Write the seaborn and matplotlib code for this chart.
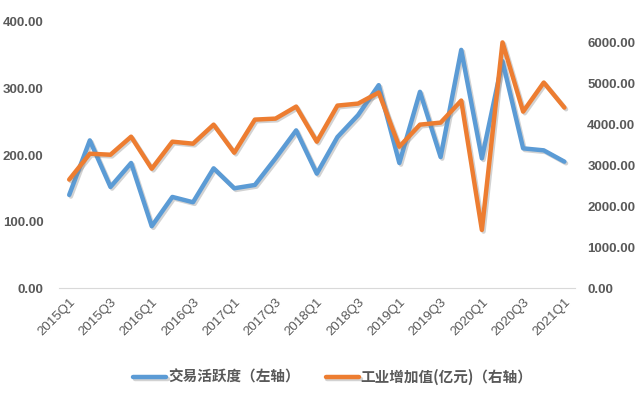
import pandas as pd
import matplotlib
matplotlib.use("Agg")
import matplotlib.pyplot as plt
import matplotlib.patheffects as pe
from matplotlib.ticker import FormatStrFormatter
import seaborn as sns

# datos
quarters = ["2015Q1", "2015Q2", "2015Q3", "2015Q4", "2016Q1", "2016Q2", "2016Q3",
            "2016Q4", "2017Q1", "2017Q2", "2017Q3", "2017Q4", "2018Q1", "2018Q2",
            "2018Q3", "2018Q4", "2019Q1", "2019Q2", "2019Q3", "2019Q4", "2020Q1",
            "2020Q2", "2020Q3", "2020Q4", "2021Q1"]
activity = [140, 222, 152, 188, 93, 137, 129, 180, 150, 155, 195, 237, 172, 227,
            260, 305, 188, 295, 197, 358, 195, 341, 210, 207, 190]
industry = [2650, 3282, 3257, 3698, 2914, 3576, 3527, 3992, 3306, 4115, 4139, 4433,
            3576, 4457, 4506, 4776, 3453, 3992, 4041, 4580, 1420, 6000, 4310, 5020, 4408]
label_left = "交易活跃度（左轴）"
label_right = "工业增加值(亿元)（右轴）"

df = pd.DataFrame({"q": range(len(quarters)), "act": activity, "ind": industry})

sns.set_style("white")
plt.rcParams["font.family"] = ["Noto Sans CJK SC", "DejaVu Sans"]

blue = "#5B9BD5"
orange = "#ED7D31"
gray = "#595959"
shadow = [pe.SimpleLineShadow(offset=(1.2, -1.2), shadow_color="gray", alpha=0.35), pe.Normal()]

fig = plt.figure(figsize=(6.4, 3.99), dpi=100)
ax = fig.add_axes([0.092, 0.278, 0.806, 0.667])
ax2 = ax.twinx()

sns.lineplot(data=df, x="q", y="act", ax=ax, color=blue, linewidth=3.2, label=label_left,
             legend=False, path_effects=shadow)
sns.lineplot(data=df, x="q", y="ind", ax=ax2, color=orange, linewidth=3.2, label=label_right,
             legend=False, path_effects=shadow)

ax.set_xlim(-0.5, len(quarters) - 0.5)
ax.set_ylim(0, 400)
ax2.set_ylim(0, 6500)
ax.set_yticks([0, 100, 200, 300, 400])
ax2.set_yticks([0, 1000, 2000, 3000, 4000, 5000, 6000])
ax.yaxis.set_major_formatter(FormatStrFormatter("%.2f"))
ax2.yaxis.set_major_formatter(FormatStrFormatter("%.2f"))

ax.set_xticks(range(0, len(quarters), 2))
ax.set_xticklabels(quarters[::2], rotation=45, ha="right", rotation_mode="anchor",
                   fontsize=8.5, color=gray, family=["Liberation Sans"])
for a in (ax, ax2):
    a.set_xlabel("")
    a.set_ylabel("")
    a.tick_params(length=0, labelsize=9.5, labelcolor=gray)
    for s in a.spines.values():
        s.set_visible(False)
for t in ax.get_yticklabels() + ax2.get_yticklabels():
    t.set_family(["Liberation Sans"])
    t.set_fontweight("bold")
ax.tick_params(axis="y", pad=11)
ax.tick_params(axis="x", pad=6)
ax2.tick_params(axis="y", pad=9)
ax.spines["bottom"].set_visible(True)
ax.spines["bottom"].set_color("#D9D9D9")

h1, l1 = ax.get_legend_handles_labels()
h2, l2 = ax2.get_legend_handles_labels()
fig.legend(h1 + h2, l1 + l2, loc="center", bbox_to_anchor=(0.52, 0.055), ncol=2,
           frameon=False, handlelength=2.3, columnspacing=1.8, handletextpad=0.1,
           prop={"size": 10.5, "weight": "bold"}, labelcolor=gray)

fig.savefig("out.png", dpi=100)
